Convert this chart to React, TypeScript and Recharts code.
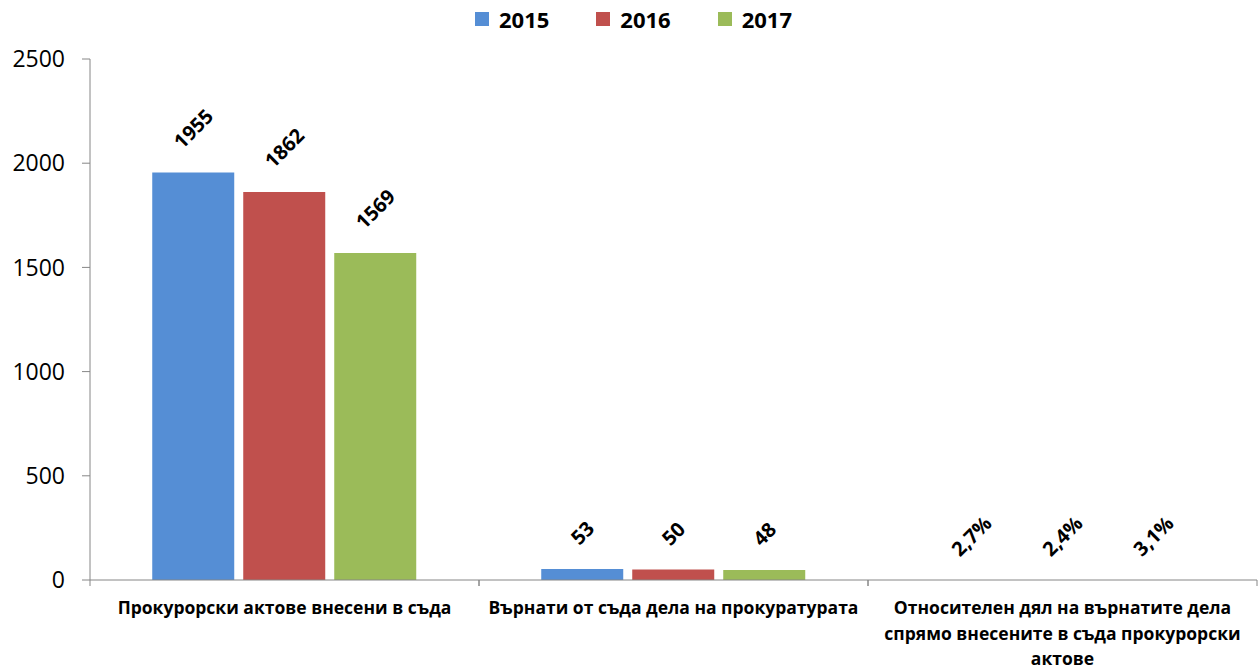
import React from "react";
import { BarChart, Bar, XAxis, YAxis, Legend, LabelList } from "recharts";

const categories = [
  "Прокурорски актове внесени в съда",
  "Върнати от съда дела на прокуратурата",
  "Относителен дял на върнатите дела\nспрямо внесените в съда прокурорски\nактове",
];
const years = ["2015", "2016", "2017"];
const values2015 = [1955, 53, 0.027];
const values2016 = [1862, 50, 0.024];
const values2017 = [1569, 48, 0.031];
const labels2015 = ["1955", "53", "2,7%"];
const labels2016 = ["1862", "50", "2,4%"];
const labels2017 = ["1569", "48", "3,1%"];
const yTicks = [0, 500, 1000, 1500, 2000, 2500];
const colors = ["#558ED5", "#C0504D", "#9BBB59"];

const data = categories.map((c, i) => ({
  name: c,
  v2015: values2015[i],
  v2016: values2016[i],
  v2017: values2017[i],
}));
const seriesLabels = [labels2015, labels2016, labels2017];

const FONT = "'Open Sans', 'DejaVu Sans', sans-serif";

const makeLabel = (labels: string[]) => (props: any) => {
  const { x, y, width, index } = props;
  const text = labels[index];
  const cx = x + width / 2;
  const half = (text.length * 11.2 + 15) * 0.354;
  const cy = y - 23 - half;
  return (
    <text
      x={cx}
      y={cy}
      textAnchor="middle"
      dominantBaseline="central"
      transform={`rotate(-45, ${cx}, ${cy})`}
      fontFamily={FONT}
      fontWeight="bold"
      fontSize={20}
      fill="#000"
    >
      {text}
    </text>
  );
};

const XTick = (props: any) => {
  const { x, y, payload, width } = props;
  const half = payload.offset || width / categories.length / 2;
  const lines = String(payload.value).split("\n");
  return (
    <g>
      <line x1={x - half} y1={y} x2={x - half} y2={y + 6} stroke="#868686" />
      <line x1={x + half} y1={y} x2={x + half} y2={y + 6} stroke="#868686" />
      {lines.map((l, i) => (
        <text
          key={i}
          x={x}
          y={y + 27 + i * 25.5}
          dominantBaseline="central"
          textAnchor="middle"
          fontFamily={FONT}
          fontWeight="bold"
          fontSize={17.5}
          fill="#000"
        >
          {l}
        </text>
      ))}
    </g>
  );
};

const LegendContent = (props: any) => {
  const { payload } = props;
  return (
    <div style={{ display: "flex", justifyContent: "center", fontFamily: FONT, lineHeight: "28px", paddingLeft: 10 }}>
      {(payload || []).map((p: any, i: number) => (
        <div key={i} style={{ display: "flex", alignItems: "center", marginRight: i < 2 ? 47 : 0 }}>
          <div style={{ width: 14, height: 14, background: p.color, marginRight: 10 }} />
          <span style={{ fontWeight: "bold", fontSize: 22, color: "#000" }}>{p.value}</span>
        </div>
      ))}
    </div>
  );
};

export default function App() {
  return (
    <div style={{ position: "absolute", left: 0, top: 0, background: "#fff" }}>
      <BarChart
        width={1258}
        height={672}
        data={data}
        margin={{ top: 31, right: 1, bottom: 12, left: 0 }}
        barCategoryGap="16%"
        barGap={9}
      >
        <Legend
          verticalAlign="top"
          content={<LegendContent />}
          wrapperStyle={{ top: 5 }}
        />
        <YAxis
          domain={[0, 2500]}
          ticks={yTicks}
          width={90}
          stroke="#868686"
          tickSize={8}
          tickMargin={17}
          tick={{ fontFamily: FONT, fontSize: 23, fill: "#000" }}
          interval={0}
        />
        <XAxis
          dataKey="name"
          height={80}
          stroke="#868686"
          tickSize={0}
          tickMargin={0}
          tickLine={false}
          interval={0}
          tick={<XTick />}
        />
        {["v2015", "v2016", "v2017"].map((k, i) => (
          <Bar key={k} dataKey={k} name={years[i]} fill={colors[i]} isAnimationActive={false}>
            <LabelList dataKey={k} content={makeLabel(seriesLabels[i])} />
          </Bar>
        ))}
      </BarChart>
    </div>
  );
}
